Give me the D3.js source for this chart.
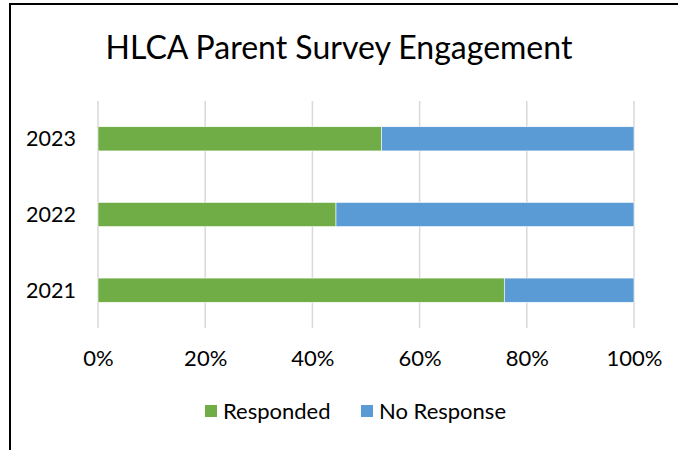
<!DOCTYPE html>
<html>
<head>
<meta charset="utf-8">
<script src="https://cdn.jsdelivr.net/npm/d3@7/dist/d3.min.js"></script>
<style>
  body { margin: 0; background: #fff; }
  svg { display: block; font-family: Lato, "Open Sans", sans-serif; }
</style>
</head>
<body>
<svg id="chart" width="678" height="450"></svg>
<script>
var years = ["2023", "2022", "2021"];
var responded = [0.529, 0.444, 0.758];
var noResponse = [0.471, 0.556, 0.242];
var seriesNames = ["Responded", "No Response"];
var seriesColors = ["#70ad47", "#5b9bd5"];
var ticks = [0, 0.2, 0.4, 0.6, 0.8, 1];

var svg = d3.select("#chart");

// outer frame (runs off the right and bottom edges)
svg.append("rect")
  .attr("x", 10).attr("y", 4)
  .attr("width", 700).attr("height", 480)
  .attr("fill", "#fff")
  .attr("stroke", "#000")
  .attr("stroke-width", 2);

svg.append("text")
  .attr("x", 339).attr("y", 59)
  .attr("text-anchor", "middle")
  .style("font-size", "32px")
  .attr("fill", "#000")
  .text("HLCA Parent Survey Engagement");

var x = d3.scaleLinear().domain([0, 1]).range([98, 634]);
var y = d3.scaleBand().domain(years).range([101, 328]).paddingInner(0.68).paddingOuter(0.34);

// gridlines
svg.append("g").selectAll("line")
  .data(ticks).join("line")
  .attr("x1", d => x(d)).attr("x2", d => x(d))
  .attr("y1", 101).attr("y2", 328)
  .attr("stroke", "#d9d9d9")
  .attr("stroke-width", 1.5);

var rows = years.map((yr, i) => ({ year: yr, vals: [responded[i], noResponse[i]] }));
var stacked = d3.stack().keys([0, 1]).value((d, k) => d.vals[k])(rows);

svg.append("g").selectAll("g")
  .data(stacked).join("g")
  .attr("fill", (d, i) => seriesColors[i])
  .selectAll("rect")
  .data(d => d).join("rect")
  .attr("x", d => x(d[0]))
  .attr("width", d => x(d[1]) - x(d[0]))
  .attr("y", d => y(d.data.year))
  .attr("height", y.bandwidth())
  .attr("stroke", "#fff")
  .attr("stroke-width", 0.6);

// y labels
svg.append("g").selectAll("text")
  .data(years).join("text")
  .attr("x", 76)
  .attr("y", d => y(d) + y.bandwidth() / 2)
  .attr("dy", "0.35em")
  .attr("text-anchor", "end")
  .style("font-size", "21.5px")
  .attr("fill", "#000")
  .text(d => d);

// x labels
var xAxis = d3.axisBottom(x).tickValues(ticks).tickFormat(d3.format(".0%")).tickSize(0).tickPadding(0);
var gx = svg.append("g").attr("transform", "translate(0,358)").call(xAxis);
gx.select(".domain").remove();
gx.selectAll("text").style("font-size", "22px").attr("fill", "#000").attr("font-family", "Lato, 'Open Sans', sans-serif").attr("dy", "0.35em").attr("y", 0);

// legend
var legendX = [205, 361];
var legend = svg.append("g").selectAll("g")
  .data(seriesNames).join("g")
  .attr("transform", (d, i) => "translate(" + legendX[i] + ",411)");
legend.append("rect")
  .attr("x", 0).attr("y", -6)
  .attr("width", 12).attr("height", 12)
  .attr("fill", (d, i) => seriesColors[i]);
legend.append("text")
  .attr("x", 18).attr("dy", "0.35em")
  .style("font-size", "22px")
  .attr("fill", "#000")
  .text(d => d);
</script>
</body>
</html>
